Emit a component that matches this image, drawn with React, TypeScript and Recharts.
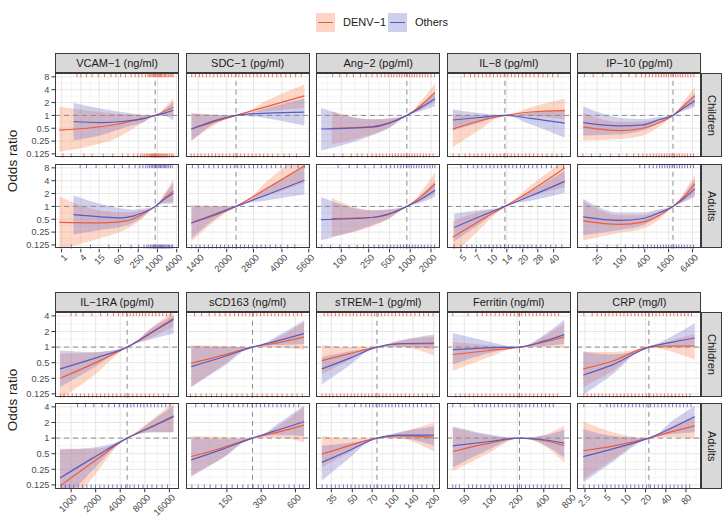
import React from 'react';
import { ComposedChart, Line, Area, XAxis, YAxis, ReferenceLine, Scatter, CartesianGrid } from 'recharts';

type Pt = [number, number, number, number]; // x, estimate, lower, upper

const RED = '#EE5A3C';
const BLUE = '#5A5ABF';
const RED_FILL = '#F9895F';
const BLUE_FILL = '#6666C6';

const seriesNames = ['DENV\u22121', 'Others'];
const rowNames = ['Children', 'Adults'];

const yTicksTop = [0.125, 0.25, 0.5, 1, 2, 4, 8];
const yTicksBottom = [0.125, 0.25, 0.5, 1, 2, 4];
const yDomainTop: [number, number] = [0.1015, 9.849];
const yDomainBottom: [number, number] = [0.1051, 4.757];

// ---------- VCAM-1 ----------
const vcamTicks = [1, 4, 15, 60, 250, 1000, 4000];
const vcamRef = 850;
const vcamChildDenv: Pt[] = [[0.85, 0.45, 0.14, 1.6], [10, 0.52, 0.2, 1.25], [55, 0.62, 0.3, 1.1], [180, 0.76, 0.5, 1.05], [375, 0.86, 0.7, 1.02], [850, 1, 1, 1], [1800, 1.28, 1.0, 1.6], [3150, 1.55, 0.95, 2.6]];
const vcamChildOthers: Pt[] = [[2.35, 0.72, 0.26, 1.95], [16, 0.68, 0.34, 1.45], [110, 0.74, 0.54, 1.15], [375, 0.84, 0.7, 1.02], [850, 1, 1, 1], [1800, 1.15, 0.95, 1.45], [3150, 1.32, 0.75, 2.1]];
const vcamAdultDenv: Pt[] = [[0.85, 0.42, 0.1, 1.7], [16, 0.41, 0.18, 0.8], [112, 0.46, 0.3, 0.72], [295, 0.62, 0.48, 0.8], [850, 1, 1, 1], [1590, 1.5, 1.2, 1.9], [3150, 2.26, 1.26, 4.4]];
const vcamAdultOthers: Pt[] = [[2.35, 0.64, 0.22, 1.8], [16, 0.57, 0.28, 1.15], [69, 0.54, 0.33, 0.9], [181, 0.6, 0.42, 0.84], [295, 0.68, 0.52, 0.88], [850, 1, 1, 1], [1590, 1.45, 1.15, 1.8], [3150, 2.04, 1.15, 3.6]];
const vcamRugChildTop = [3, 4, 6, 9, 14, 22, 35, 50, 70, 100, 150, 200, 260, 330, 420, 500, 560, 620, 680, 750, 820, 900, 980, 1060, 1150, 1250, 1350, 1500, 1650, 1800, 2000, 2250, 2500, 2800, 3100];
const vcamRugChildBottom = [1.1, 2, 5, 9, 20, 40, 80, 120, 180, 240, 300, 350, 400, 450, 500, 550, 600, 650, 700, 760, 820, 880, 950, 1020, 1100, 1180, 1270, 1370, 1480, 1600, 1750, 1900, 2100, 2400, 2800, 3100];
const vcamRugAdultTop = [3.8, 6, 12, 25, 45, 80, 130, 200, 280, 350, 430, 500, 570, 640, 710, 790, 870, 950, 1040, 1140, 1250, 1370, 1500, 1650, 1800, 2000, 2250, 2550, 2900];
const vcamRugAdultBottom = [2, 8, 30, 70, 150, 260, 380, 470, 540, 610, 680, 750, 820, 900, 980, 1060, 1150, 1250, 1350, 1460, 1580, 1700, 1850, 2000, 2200, 2400, 2700, 3000];

// ---------- SDC-1 ----------
const sdcTicks = [1400, 2000, 2800, 4000, 5600];
const sdcRef = 2250;
const sdcChildDenv: Pt[] = [[1284, 0.48, 0.26, 1.15], [2250, 1, 1, 1], [3340, 1.63, 1.25, 2.3], [5300, 2.87, 1.5, 5.3]];
const sdcChildOthers: Pt[] = [[1284, 0.48, 0.25, 1.1], [2250, 1, 1, 1], [3340, 1.13, 0.85, 1.5], [5300, 1.19, 0.57, 2.5]];
const sdcAdultDenv: Pt[] = [[1284, 0.41, 0.15, 1.1], [2250, 1, 1, 1], [3340, 2.7, 1.8, 4.0], [5300, 9, 3.6, 20]];
const sdcAdultOthers: Pt[] = [[1284, 0.41, 0.18, 1.0], [2250, 1, 1, 1], [3340, 1.9, 1.4, 2.8], [5300, 4.1, 1.9, 8.9]];
const sdcRugChildTop = [1290, 1350, 1420, 1480, 1550, 1620, 1700, 1780, 1860, 1950, 2040, 2130, 2230, 2330, 2440, 2550, 2670, 2800, 2930, 3070, 3220, 3380, 3550, 3750, 3950, 4200, 4450, 4750, 5100];
const sdcRugChildBottom = [1280, 1330, 1390, 1450, 1520, 1590, 1660, 1740, 1820, 1900, 1990, 2080, 2180, 2280, 2390, 2500, 2620, 2750, 2890, 3030, 3180, 3350, 3550, 3800, 4100, 4400, 4800];
const sdcRugAdultTop = [1300, 1400, 1500, 1600, 1700, 1800, 1900, 2000, 2100, 2200, 2300, 2400, 2500, 2650, 2800, 2950, 3100, 3300, 3500, 3700, 3950, 4200, 4500, 4900, 5300];
const sdcRugAdultBottom = [1290, 1360, 1430, 1510, 1590, 1670, 1760, 1850, 1950, 2050, 2150, 2260, 2380, 2500, 2630, 2770, 2920, 3080, 3250, 3450, 3700, 3950, 4300, 4700];

// ---------- Ang-2 ----------
const angTicks = [100, 250, 500, 1000, 2000];
const angRef = 893;
const angChildDenv: Pt[] = [[73, 0.5, 0.21, 1.25], [278, 0.55, 0.36, 0.8], [483, 0.66, 0.5, 0.85], [893, 1, 1, 1], [1400, 1.64, 1.35, 2.1], [2290, 3.5, 2.1, 5.6]];
const angChildOthers: Pt[] = [[51, 0.48, 0.15, 1.5], [278, 0.53, 0.34, 0.82], [483, 0.65, 0.5, 0.85], [893, 1, 1, 1], [1400, 1.5, 1.25, 1.8], [2290, 2.45, 1.63, 3.6]];
const angAdultDenv: Pt[] = [[73, 0.52, 0.2, 1.55], [278, 0.55, 0.34, 0.82], [483, 0.65, 0.5, 0.86], [893, 1, 1, 1], [1400, 1.65, 1.3, 2.1], [2290, 3.35, 2.0, 6.2]];
const angAdultOthers: Pt[] = [[51, 0.49, 0.16, 1.65], [278, 0.55, 0.36, 0.8], [483, 0.66, 0.52, 0.85], [893, 1, 1, 1], [1400, 1.45, 1.22, 1.75], [2290, 2.4, 1.65, 4.0]];
const angRugChildTop = [75, 95, 120, 150, 190, 230, 280, 330, 380, 430, 480, 530, 580, 640, 700, 760, 830, 900, 980, 1060, 1150, 1250, 1370, 1500, 1650, 1800, 2000, 2250];
const angRugChildBottom = [78, 105, 140, 170, 200, 240, 280, 320, 360, 400, 450, 500, 550, 610, 670, 740, 810, 890, 970, 1060, 1160, 1270, 1400, 1550, 1700, 1900, 2150];
const angRugAdultTop = [90, 130, 170, 220, 300, 380, 450, 520, 590, 660, 730, 800, 880, 960, 1040, 1130, 1230, 1340, 1460, 1600, 1750, 1920, 2100, 2280];
const angRugAdultBottom = [52, 70, 95, 130, 170, 210, 250, 300, 350, 400, 460, 520, 580, 650, 720, 800, 880, 970, 1070, 1180, 1300, 1450, 1600, 1800, 2000, 2250];

// ---------- IL-8 ----------
const il8Ticks = [5, 7, 10, 14, 20, 28, 40];
const il8Ref = 13.4;
const il8ChildDenv: Pt[] = [[4.17, 0.48, 0.18, 1.05], [7.16, 0.72, 0.42, 1.0], [13.4, 1, 1, 1], [23.8, 1.2, 0.95, 1.55], [51.3, 1.3, 0.81, 2.5]];
const il8ChildOthers: Pt[] = [[4.17, 0.78, 0.44, 1.37], [7.16, 0.88, 0.65, 1.15], [13.4, 1, 1, 1], [23.8, 0.85, 0.62, 1.15], [51.3, 0.66, 0.3, 1.37]];
const il8AdultDenv: Pt[] = [[4.17, 0.19, 0.07, 0.45], [7.16, 0.42, 0.25, 0.72], [13.4, 1, 1, 1], [23.8, 2.3, 1.7, 3.1], [51.3, 7.9, 2.8, 12]];
const il8AdultOthers: Pt[] = [[4.3, 0.32, 0.15, 0.68], [7.16, 0.54, 0.35, 0.8], [13.4, 1, 1, 1], [23.8, 1.75, 1.35, 2.2], [51.3, 3.86, 2.1, 6.8]];
const il8RugChildTop = [5.4, 6.2, 6.8, 7.4, 8.1, 8.8, 9.6, 10.4, 11.3, 12.2, 13.2, 14.3, 15.5, 16.8, 18.2, 19.8, 21.5, 23.5, 25.8, 28.5, 31.5, 35, 39, 44];
const il8RugChildBottom = [4.2, 4.8, 5.5, 6.1, 6.7, 7.3, 8, 8.7, 9.5, 10.3, 11.2, 12.1, 13.1, 14.2, 15.4, 16.7, 18.1, 19.7, 21.4, 23.3, 25.5, 28, 31, 34.5, 38.5, 43, 48];
const il8RugAdultTop = [5, 5.8, 6.6, 7.3, 8, 8.8, 9.6, 10.5, 11.4, 12.4, 13.5, 14.7, 16, 17.4, 19, 20.8, 22.8, 25, 27.5, 30.5, 34, 38, 43, 50];
const il8RugAdultBottom = [4.3, 5, 5.7, 6.4, 7.1, 7.8, 8.6, 9.4, 10.3, 11.2, 12.2, 13.3, 14.5, 15.8, 17.2, 18.8, 20.5, 22.4, 24.5, 27, 30, 33.5, 37.5, 42, 48];

// ---------- IP-10 ----------
const ip10Ticks = [25, 100, 400, 1600, 6400];
const ip10Ref = 2060;
const ip10ChildDenv: Pt[] = [[11.2, 0.54, 0.26, 1.15], [91.5, 0.44, 0.28, 0.7], [358, 0.5, 0.34, 0.72], [946, 0.68, 0.55, 0.84], [2060, 1, 1, 1], [4080, 1.78, 1.4, 2.3], [7350, 2.87, 1.8, 4.7]];
const ip10ChildOthers: Pt[] = [[11.2, 0.68, 0.34, 1.63], [91.5, 0.57, 0.36, 0.88], [358, 0.6, 0.44, 0.82], [946, 0.8, 0.68, 0.92], [2060, 1, 1, 1], [4080, 1.55, 1.3, 1.9], [7350, 2.2, 1.6, 3.3]];
const ip10AdultDenv: Pt[] = [[11.2, 0.46, 0.16, 1.33], [91.5, 0.38, 0.24, 0.62], [358, 0.43, 0.3, 0.62], [946, 0.62, 0.5, 0.78], [2060, 1, 1, 1], [4080, 1.75, 1.35, 2.3], [7350, 3.35, 1.96, 5.7]];
const ip10AdultOthers: Pt[] = [[11.2, 0.57, 0.21, 1.5], [91.5, 0.47, 0.28, 0.72], [358, 0.52, 0.36, 0.72], [946, 0.72, 0.6, 0.86], [2060, 1, 1, 1], [4080, 1.6, 1.3, 2.0], [7350, 2.57, 1.65, 4.4]];
const ip10RugChildTop = [12, 20, 35, 60, 100, 160, 240, 330, 420, 520, 630, 760, 900, 1050, 1220, 1400, 1600, 1850, 2100, 2400, 2750, 3150, 3600, 4200, 4900, 5800, 7000];
const ip10RugChildBottom = [11, 18, 30, 55, 90, 140, 210, 280, 360, 450, 550, 660, 780, 920, 1070, 1250, 1450, 1700, 1950, 2250, 2600, 3000, 3500, 4100, 4800, 5700, 6800];
const ip10RugAdultTop = [300, 400, 520, 650, 800, 950, 1100, 1280, 1480, 1700, 1950, 2250, 2600, 3000, 3500, 4100, 4800, 5700, 6800];
const ip10RugAdultBottom = [14, 25, 45, 80, 130, 200, 280, 370, 470, 580, 700, 840, 1000, 1180, 1380, 1600, 1850, 2150, 2500, 2900, 3400, 4000, 4700, 5600, 6800];

// ---------- IL-1RA ----------
const il1raTicks = [1000, 2000, 4000, 8000, 16000];
const il1raRef = 4860;
const il1raChildDenv: Pt[] = [[732, 0.25, 0.1, 0.75], [1884, 0.48, 0.28, 0.78], [4860, 1, 1, 1], [10000, 2.0, 1.55, 2.5], [18000, 3.55, 2.5, 5]];
const il1raChildOthers: Pt[] = [[732, 0.38, 0.17, 0.86], [1884, 0.6, 0.4, 0.8], [4860, 1, 1, 1], [10000, 1.95, 1.45, 2.4], [18000, 3.4, 1.8, 4.1]];
const il1raAdultDenv: Pt[] = [[732, 0.12, 0.03, 0.62], [1884, 0.35, 0.18, 0.62], [4860, 1, 1, 1], [10000, 1.7, 1.3, 2.3], [18000, 2.7, 1.29, 5]];
const il1raAdultOthers: Pt[] = [[732, 0.17, 0.05, 0.6], [1884, 0.42, 0.25, 0.66], [4860, 1, 1, 1], [10000, 1.68, 1.3, 2.2], [18000, 2.6, 1.29, 4.2]];
const il1raRugChildTop = [1000, 1150, 1400, 1800, 2300, 2800, 3300, 3800, 4300, 4800, 5300, 5800, 6300, 6900, 7500, 8200, 9000, 9900, 10900, 12000, 13300, 14800, 16500];
const il1raRugChildBottom = [740, 820, 920, 1030, 1160, 1300, 1460, 1640, 1840, 2060, 2300, 2580, 2890, 3240, 3630, 4070, 4560, 5100, 5700, 6400, 7200, 8100, 9100, 10300, 11700, 13500, 15500];
const il1raRugAdultTop = [1200, 1500, 1900, 2400, 2900, 3400, 3900, 4400, 4900, 5400, 5900, 6500, 7100, 7800, 8600, 9500, 10500, 11600, 12900, 14400, 16200];
const il1raRugAdultBottom = [760, 850, 960, 1080, 1220, 1380, 1560, 1760, 1990, 2250, 2540, 2870, 3240, 3660, 4130, 4660, 5260, 5940, 6700, 7600, 8600, 9800, 11200, 13000, 15200];

// ---------- sCD163 ----------
const scdTicks = [150, 300, 600];
const scdRef = 252;
const scdChildDenv: Pt[] = [[73, 0.49, 0.17, 1.08], [140, 0.7, 0.45, 1.05], [252, 1, 1, 1], [450, 1.25, 0.97, 1.65], [714, 1.56, 0.89, 3.0]];
const scdChildOthers: Pt[] = [[73, 0.42, 0.17, 1.05], [140, 0.65, 0.42, 1.0], [252, 1, 1, 1], [450, 1.38, 1.1, 1.8], [714, 1.82, 1.15, 3.3]];
const scdAdultDenv: Pt[] = [[73, 0.44, 0.19, 1.1], [140, 0.66, 0.42, 1.05], [252, 1, 1, 1], [450, 1.35, 1.0, 1.9], [714, 1.78, 0.82, 4.0]];
const scdAdultOthers: Pt[] = [[73, 0.38, 0.18, 1.0], [140, 0.62, 0.42, 0.95], [252, 1, 1, 1], [450, 1.5, 1.15, 2.1], [714, 2.07, 1.1, 4.3]];
const scdRugChildTop = [78, 90, 105, 118, 130, 145, 160, 175, 190, 205, 220, 238, 256, 275, 296, 318, 342, 368, 396, 426, 458, 493, 530, 575, 625, 680];
const scdRugChildBottom = [72, 80, 89, 99, 110, 122, 135, 150, 166, 184, 204, 226, 250, 277, 306, 338, 374, 414, 458, 506, 560, 620, 690];
const scdRugAdultTop = [80, 95, 110, 125, 140, 155, 172, 190, 208, 228, 250, 272, 296, 322, 350, 380, 413, 449, 488, 530, 580, 640];
const scdRugAdultBottom = [74, 84, 95, 107, 120, 134, 150, 167, 186, 207, 230, 255, 283, 314, 348, 386, 428, 475, 527, 585, 650, 700];

// ---------- sTREM-1 ----------
const tremTicks = [35, 50, 70, 100, 140, 200];
const tremRef = 76;
const tremChildDenv: Pt[] = [[29.8, 0.55, 0.3, 1.1], [47, 0.74, 0.55, 1.0], [76, 1, 1, 1], [109, 1.15, 1.0, 1.3], [200, 1.16, 0.69, 1.6]];
const tremChildOthers: Pt[] = [[29.8, 0.38, 0.19, 0.64], [47, 0.6, 0.43, 0.82], [76, 1, 1, 1], [109, 1.16, 1.02, 1.32], [200, 1.2, 0.93, 1.76]];
const tremAdultDenv: Pt[] = [[29.8, 0.49, 0.27, 1.1], [47, 0.71, 0.52, 0.98], [76, 1, 1, 1], [109, 1.1, 0.98, 1.25], [200, 1.03, 0.55, 2.0]];
const tremAdultOthers: Pt[] = [[29.8, 0.34, 0.15, 0.71], [47, 0.57, 0.4, 0.8], [76, 1, 1, 1], [109, 1.14, 1.0, 1.3], [200, 1.14, 0.71, 1.68]];
const tremRugChildTop = [31, 33, 35, 37.5, 40, 42.5, 45, 48, 51, 54, 57.5, 61, 65, 69, 73, 77.5, 82, 87, 92, 98, 104, 111, 118, 126, 135, 145, 156, 168, 182, 197];
const tremRugChildBottom = [30, 32, 34, 36, 38.5, 41, 43.5, 46, 49, 52, 55, 58.5, 62, 66, 70, 74.5, 79, 84, 89, 95, 101, 108, 115, 123, 132, 142, 153, 165, 179, 195];
const tremRugAdultTop = [40, 45, 52, 58, 63, 67, 71, 75, 79, 83, 88, 93, 98, 104, 110, 117, 124, 132, 141, 151, 162, 175, 190];
const tremRugAdultBottom = [30, 32.5, 35, 37.5, 40, 43, 46, 49, 52.5, 56, 60, 64, 68, 72.5, 77, 82, 87.5, 93, 99, 106, 113, 121, 130, 140, 151, 163, 177, 195];

// ---------- Ferritin ----------
const ferTicks = [50, 100, 200, 400, 800];
const ferRef = 212;
const ferChildDenv: Pt[] = [[37, 0.72, 0.35, 1.25], [91, 0.85, 0.62, 1.1], [212, 1, 1, 1], [400, 1.25, 1.0, 1.6], [683, 1.56, 0.97, 2.84]];
const ferChildOthers: Pt[] = [[37, 0.89, 0.46, 1.87], [91, 0.97, 0.75, 1.3], [212, 1, 1, 1], [400, 1.3, 1.05, 1.7], [683, 1.74, 1.16, 3.4]];
const ferAdultDenv: Pt[] = [[37, 0.55, 0.23, 1.6], [91, 0.78, 0.5, 1.15], [212, 1, 1, 1], [400, 0.9, 0.72, 1.15], [683, 0.72, 0.34, 1.73]];
const ferAdultOthers: Pt[] = [[37, 0.71, 0.27, 1.68], [91, 0.85, 0.58, 1.2], [212, 1, 1, 1], [400, 0.93, 0.75, 1.12], [683, 0.8, 0.42, 1.45]];
const ferRugChildTop = [37, 55, 70, 80, 90, 100, 112, 125, 138, 152, 168, 185, 204, 225, 248, 273, 300, 330, 363, 400, 440, 485, 535, 590];
const ferRugChildBottom = [40, 45, 51, 57, 64, 71, 79, 88, 98, 109, 121, 134, 149, 165, 183, 203, 225, 250, 277, 307, 340, 377, 418, 463, 513, 570];
const ferRugAdultTop = [37, 45, 65, 72, 80, 89, 99, 110, 122, 135, 150, 166, 184, 204, 226, 250, 277, 307, 340, 377, 418, 463, 513];
const ferRugAdultBottom = [37, 40, 44, 56, 62, 69, 77, 86, 96, 107, 119, 132, 147, 163, 181, 201, 223, 248, 275, 305, 338, 375, 416, 462, 513, 570, 640];

// ---------- CRP ----------
const crpTicks = [2.5, 5, 10, 20, 40, 80];
const crpRef = 22.4;
const crpChildDenv: Pt[] = [[2.36, 0.38, 0.17, 0.82], [6.5, 0.54, 0.35, 0.8], [22.4, 1, 1, 1], [51, 1.05, 0.8, 1.35], [108, 1.05, 0.57, 1.8]];
const crpChildOthers: Pt[] = [[2.36, 0.29, 0.12, 0.8], [6.5, 0.46, 0.3, 0.72], [22.4, 1, 1, 1], [51, 1.25, 0.98, 1.65], [108, 1.5, 1.03, 2.9]];
const crpAdultDenv: Pt[] = [[2.36, 0.57, 0.16, 2.1], [6.5, 0.7, 0.38, 1.3], [22.4, 1, 1, 1], [51, 1.35, 1.05, 1.75], [108, 1.73, 0.96, 2.7]];
const crpAdultOthers: Pt[] = [[2.36, 0.44, 0.14, 1.5], [6.5, 0.62, 0.35, 1.1], [22.4, 1, 1, 1], [51, 1.6, 1.2, 2.2], [108, 2.58, 1.29, 4.2]];
const crpRugChildTop = [2.4, 3.2, 3.8, 4.4, 5, 5.7, 6.5, 7.4, 8.4, 9.5, 10.8, 12.2, 13.8, 15.6, 17.6, 19.9, 22.5, 25.4, 28.7, 32.4, 36.6, 41.3, 46.7, 52.8, 59.7, 67.5, 76.3, 86.2, 97];
const crpRugChildBottom = [2.4, 2.7, 3.1, 3.5, 4, 4.5, 5.1, 5.8, 6.6, 7.5, 8.5, 9.6, 10.9, 12.4, 14, 15.9, 18, 20.4, 23.1, 26.2, 29.7, 33.7, 38.2, 43.3, 49, 55.6, 63, 71.4, 81, 92];
const crpRugAdultTop = [2.4, 4.2, 5.3, 6, 6.8, 7.7, 8.7, 9.9, 11.2, 12.7, 14.4, 16.3, 18.5, 21, 23.8, 27, 30.6, 34.7, 39.3, 44.6, 50.6, 57.4, 65, 73.7, 83.6, 95];
const crpRugAdultBottom = [2.4, 2.9, 3.4, 4, 4.6, 5.3, 6.1, 7, 8, 9.2, 10.5, 12, 13.8, 15.8, 18.1, 20.7, 23.7, 27.1, 31, 35.5, 40.6, 46.5, 53.2, 60.9, 69.7, 79.8, 91];

type VarSpec = {
  title: string; ticks: number[]; domain: [number, number]; ref: number;
  cD: Pt[]; cO: Pt[]; aD: Pt[]; aO: Pt[];
  rugs: number[][];
};

const topVars: VarSpec[] = [
  { title: 'VCAM\u22121 (ng/ml)', ticks: vcamTicks, domain: [0.62, 4730], ref: vcamRef, cD: vcamChildDenv, cO: vcamChildOthers, aD: vcamAdultDenv, aO: vcamAdultOthers, rugs: [vcamRugChildTop, vcamRugChildBottom, vcamRugAdultTop, vcamRugAdultBottom] },
  { title: 'SDC\u22121 (pg/ml)', ticks: sdcTicks, domain: [1200, 5690], ref: sdcRef, cD: sdcChildDenv, cO: sdcChildOthers, aD: sdcAdultDenv, aO: sdcAdultOthers, rugs: [sdcRugChildTop, sdcRugChildBottom, sdcRugAdultTop, sdcRugAdultBottom] },
  { title: 'Ang\u22122 (pg/ml)', ticks: angTicks, domain: [43, 2700], ref: angRef, cD: angChildDenv, cO: angChildOthers, aD: angAdultDenv, aO: angAdultOthers, rugs: [angRugChildTop, angRugChildBottom, angRugAdultTop, angRugAdultBottom] },
  { title: 'IL\u22128 (pg/ml)', ticks: il8Ticks, domain: [3.66, 59], ref: il8Ref, cD: il8ChildDenv, cO: il8ChildOthers, aD: il8AdultDenv, aO: il8AdultOthers, rugs: [il8RugChildTop, il8RugChildBottom, il8RugAdultTop, il8RugAdultBottom] },
  { title: 'IP\u221210 (pg/ml)', ticks: ip10Ticks, domain: [7.8, 10500], ref: ip10Ref, cD: ip10ChildDenv, cO: ip10ChildOthers, aD: ip10AdultDenv, aO: ip10AdultOthers, rugs: [ip10RugChildTop, ip10RugChildBottom, ip10RugAdultTop, ip10RugAdultBottom] },
];
const bottomVars: VarSpec[] = [
  { title: 'IL\u22121RA (pg/ml)', ticks: il1raTicks, domain: [635, 21000], ref: il1raRef, cD: il1raChildDenv, cO: il1raChildOthers, aD: il1raAdultDenv, aO: il1raAdultOthers, rugs: [il1raRugChildTop, il1raRugChildBottom, il1raRugAdultTop, il1raRugAdultBottom] },
  { title: 'sCD163 (ng/ml)', ticks: scdTicks, domain: [65.7, 805], ref: scdRef, cD: scdChildDenv, cO: scdChildOthers, aD: scdAdultDenv, aO: scdAdultOthers, rugs: [scdRugChildTop, scdRugChildBottom, scdRugAdultTop, scdRugAdultBottom] },
  { title: 'sTREM\u22121 (pg/ml)', ticks: tremTicks, domain: [27, 221.6], ref: tremRef, cD: tremChildDenv, cO: tremChildOthers, aD: tremAdultDenv, aO: tremAdultOthers, rugs: [tremRugChildTop, tremRugChildBottom, tremRugAdultTop, tremRugAdultBottom] },
  { title: 'Ferritin (ng/ml)', ticks: ferTicks, domain: [31.8, 815], ref: ferRef, cD: ferChildDenv, cO: ferChildOthers, aD: ferAdultDenv, aO: ferAdultOthers, rugs: [ferRugChildTop, ferRugChildBottom, ferRugAdultTop, ferRugAdultBottom] },
  { title: 'CRP (mg/l)', ticks: crpTicks, domain: [1.9, 134], ref: crpRef, cD: crpChildDenv, cO: crpChildOthers, aD: crpAdultDenv, aO: crpAdultOthers, rugs: [crpRugChildTop, crpRugChildBottom, crpRugAdultTop, crpRugAdultBottom] },
];

// ---------- layout ----------
const COL_X = [55, 185.6, 316.2, 446.8, 577.4];
const PANEL_W = 124;
const STRIP_H = 20;
const BLOCKS = [
  { stripY: 52.7, rowY: [72.7, 163.5], h: 84.8, vars: topVars, yTicks: yTicksTop, yDomain: yDomainTop },
  { stripY: 291.7, rowY: [311.7, 403.3], h: 85.8, vars: bottomVars, yTicks: yTicksBottom, yDomain: yDomainBottom },
];
const FONT = '"Liberation Sans", Arial, Helvetica, sans-serif';
const TICK_COLOR = '#4D4D4D';
const BORDER = '#3A3A3A';

const toRows = (pts: Pt[]) => pts.map(([x, est, lo, hi]) => ({ x, est, band: [lo, hi] }));

const minorOf = (ticks: number[], dom: [number, number]) => {
  const out: number[] = [];
  const n = ticks.length;
  out.push(ticks[0] * Math.sqrt(ticks[0] / ticks[1]));
  for (let i = 0; i < n - 1; i++) out.push(Math.sqrt(ticks[i] * ticks[i + 1]));
  out.push(ticks[n - 1] * Math.sqrt(ticks[n - 1] / ticks[n - 2]));
  return out.filter((v) => v > dom[0] && v < dom[1]);
};

const XTick = (props: any) => {
  const { x, y, payload } = props;
  const tx = x + 1.5;
  const ty = y - 1;
  return (
    <text x={tx} y={ty} dy="0.72em" textAnchor="end" fontSize={9.3} fill={TICK_COLOR} transform={`rotate(-45 ${tx} ${ty})`}>
      {String(payload.value)}
    </text>
  );
};

const rugShape = (dir: number, color: string) => (p: any) => (
  <line x1={p.cx} x2={p.cx} y1={p.cy} y2={p.cy + dir * 4.2} stroke={color} strokeWidth={0.9} strokeOpacity={0.9} />
);

function PanelChart({ v, block, row, col }: { v: VarSpec; block: number; row: number; col: number }) {
  const B = BLOCKS[block];
  const isAdult = row === 1;
  const firstCol = col === 0;
  const yAxisW = firstCol ? COL_X[0] : 0;
  const xAxisH = isAdult ? 42 : 0;
  const left = firstCol ? 0 : COL_X[col];
  const denv = toRows(isAdult ? v.aD : v.cD);
  const others = toRows(isAdult ? v.aO : v.cO);
  const rugTop = isAdult ? v.rugs[2] : v.rugs[0];
  const rugBottom = isAdult ? v.rugs[3] : v.rugs[1];
  const rugColor = isAdult ? BLUE : RED;
  const yDom = B.yDomain;
  return (
    <div style={{ position: 'absolute', left, top: B.rowY[row] }}>
      <ComposedChart width={yAxisW + PANEL_W} height={B.h + xAxisH} margin={{ top: 0, right: 0, bottom: 0, left: 0 }} style={{ overflow: 'visible' }}>
        <CartesianGrid verticalValues={minorOf(v.ticks, v.domain)} horizontalValues={minorOf(B.yTicks, yDom)} stroke="#EFEFEF" strokeWidth={0.6} />
        <CartesianGrid verticalValues={v.ticks} horizontalValues={B.yTicks} stroke="#E6E6E6" strokeWidth={1} />
        <XAxis type="number" dataKey="x" scale="log" domain={v.domain} ticks={v.ticks} allowDataOverflow hide={!isAdult} height={xAxisH} interval={0}
          tick={<XTick />} tickSize={3.5} tickLine={{ stroke: '#333' }} axisLine={false} />
        <YAxis type="number" scale="log" domain={yDom} ticks={B.yTicks} allowDataOverflow hide={!firstCol} width={yAxisW} interval={0}
          tick={{ fontSize: 9.3, fill: TICK_COLOR }} tickSize={3.5} tickLine={{ stroke: '#333' }} axisLine={false} tickFormatter={(t: number) => String(t)} />
        <Area data={denv} dataKey="band" type="monotone" stroke="none" fill={RED_FILL} fillOpacity={0.34} isAnimationActive={false} />
        <Area data={others} dataKey="band" type="monotone" stroke="none" fill={BLUE_FILL} fillOpacity={0.3} isAnimationActive={false} />
        <ReferenceLine y={1} stroke="#8C8C8C" strokeDasharray="5 4" strokeWidth={1} />
        <ReferenceLine x={v.ref} stroke="#8C8C8C" strokeDasharray="5 4" strokeWidth={1} />
        <Line data={denv} dataKey="est" type="monotone" stroke={RED} strokeWidth={1.2} dot={false} isAnimationActive={false} />
        <Line data={others} dataKey="est" type="monotone" stroke={BLUE} strokeWidth={1.2} dot={false} isAnimationActive={false} />
        <Scatter data={rugTop.map((x) => ({ x, y: yDom[1] }))} dataKey="y" shape={rugShape(1, rugColor)} isAnimationActive={false} />
        <Scatter data={rugBottom.map((x) => ({ x, y: yDom[0] }))} dataKey="y" shape={rugShape(-1, rugColor)} isAnimationActive={false} />
      </ComposedChart>
    </div>
  );
}

export default function App() {
  const pieces: React.ReactNode[] = [];
  BLOCKS.forEach((B, bi) => {
    B.vars.forEach((v, ci) => {
      [0, 1].forEach((ri) => {
        pieces.push(<PanelChart key={`c${bi}${ci}${ri}`} v={v} block={bi} row={ri} col={ci} />);
        pieces.push(
          <div key={`b${bi}${ci}${ri}`} style={{ position: 'absolute', left: COL_X[ci], top: B.rowY[ri], width: PANEL_W, height: B.h, border: `1px solid ${BORDER}`, boxSizing: 'border-box', pointerEvents: 'none' }} />
        );
      });
      pieces.push(
        <div key={`s${bi}${ci}`} style={{ position: 'absolute', left: COL_X[ci], top: B.stripY, width: PANEL_W, height: STRIP_H, background: '#D9D9D9', border: `1px solid ${BORDER}`, boxSizing: 'border-box', display: 'flex', alignItems: 'center', justifyContent: 'center', fontSize: 11, color: '#1A1A1A', whiteSpace: 'nowrap' }}>
          {v.title}
        </div>
      );
    });
    [0, 1].forEach((ri) => {
      pieces.push(
        <div key={`r${bi}${ri}`} style={{ position: 'absolute', left: COL_X[4] + PANEL_W, top: B.rowY[ri], width: 20.3, height: B.h, background: '#D9D9D9', border: `1px solid ${BORDER}`, boxSizing: 'border-box', display: 'flex', alignItems: 'center', justifyContent: 'center', fontSize: 11, color: '#1A1A1A' }}>
          <span style={{ writingMode: 'vertical-rl' }}>{rowNames[ri]}</span>
        </div>
      );
    });
    const midY = (B.rowY[0] + B.rowY[1] + B.h) / 2;
    pieces.push(
      <div key={`y${bi}`} style={{ position: 'absolute', left: 12, top: midY, transform: 'translate(-50%, -50%) rotate(-90deg)', fontSize: 13.5, color: '#1A1A1A', whiteSpace: 'nowrap' }}>
        Odds ratio
      </div>
    );
  });

  const legendItems = [
    { label: seriesNames[0], line: RED, fill: 'rgba(249,137,95,0.36)', keyX: 316, textX: 343 },
    { label: seriesNames[1], line: BLUE, fill: 'rgba(102,102,198,0.32)', keyX: 388.3, textX: 415 },
  ];

  return (
    <div style={{ position: 'absolute', left: 0, top: 0, width: 728, height: 530, background: '#FFFFFF', fontFamily: FONT, overflow: 'hidden' }}>
      <style>{'.recharts-surface{overflow:visible}.recharts-wrapper{overflow:visible}'}</style>
      {pieces}
      {legendItems.map((it) => (
        <React.Fragment key={it.label}>
          <div style={{ position: 'absolute', left: it.keyX, top: 13.3, width: 19, height: 19, background: it.fill }}>
            <div style={{ position: 'absolute', left: 2, right: 2, top: 9, height: 1.2, background: it.line }} />
          </div>
          <div style={{ position: 'absolute', left: it.textX, top: 13.3, height: 19, lineHeight: '19px', fontSize: 11, color: '#1A1A1A' }}>{it.label}</div>
        </React.Fragment>
      ))}
    </div>
  );
}
